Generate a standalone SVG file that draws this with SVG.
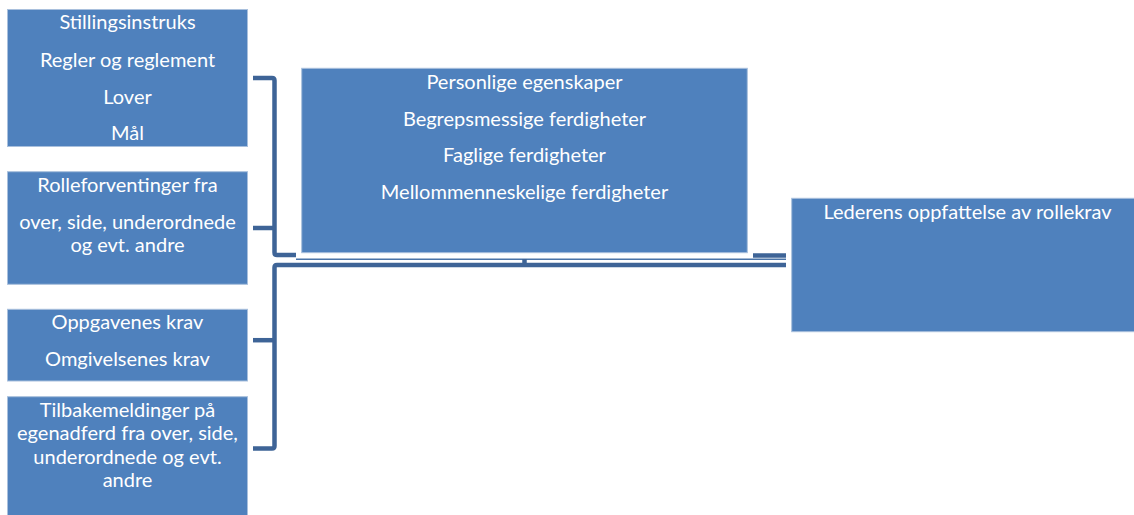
<svg xmlns="http://www.w3.org/2000/svg" width="1134" height="515" viewBox="0 0 1134 515">
<style>
.box{fill:#4F81BD;stroke:#a9c0dd;stroke-width:1}
.t{font-family:Lato,"Liberation Sans",sans-serif;font-size:20px;fill:#ffffff;text-anchor:middle}
.c{fill:none;stroke:#3E6497;stroke-width:4.5;stroke-linejoin:round;stroke-linecap:butt}
.thin{fill:none;stroke:#4A74A8;stroke-width:1.6}
</style>
<rect width="1134" height="515" fill="#ffffff"/>
<g id="connectors">
<path class="c" d="M253,78 H272 Q274.5,78 274.5,80.5 V252.5 Q274.5,255 277,255 H296"/>
<path class="c" d="M253,228 H274.5"/>
<path class="c" d="M753,255.5 H786"/>
<path class="thin" d="M296,259.2 H786"/>
<path class="c" d="M524.5,259 V263"/>
<path class="c" d="M786,265 H277 Q274.5,265 274.5,267.5 V446 Q274.5,448.5 272,448.5 H253"/>
<path class="c" d="M253,340.2 H274.5"/>
</g>
<g id="node-stilling">
<rect class="box" x="7.5" y="9.5" width="240" height="137"/>
<text class="t" x="127.5" y="29.3">Stillingsinstruks</text>
<text class="t" x="127.5" y="66.7">Regler og reglement</text>
<text class="t" x="127.5" y="103.7">Lover</text>
<text class="t" x="127.5" y="140.3">Mål</text>
</g>
<g id="node-rolle">
<rect class="box" x="7.5" y="171.7" width="240" height="112.6"/>
<text class="t" x="127.5" y="192">Rolleforventinger fra</text>
<text class="t" x="127.5" y="228.7">over, side, underordnede</text>
<text class="t" x="127.5" y="252">og evt. andre</text>
</g>
<g id="node-oppgave">
<rect class="box" x="7.5" y="309.3" width="240" height="71.7"/>
<text class="t" x="127.5" y="329.3">Oppgavenes krav</text>
<text class="t" x="127.5" y="366">Omgivelsenes krav</text>
</g>
<g id="node-tilbake">
<rect class="box" x="7.5" y="396.7" width="240" height="125"/>
<text class="t" x="127.5" y="417">Tilbakemeldinger på</text>
<text class="t" x="127.5" y="440.3">egenadferd fra over, side,</text>
<text class="t" x="127.5" y="463.7">underordnede og evt.</text>
<text class="t" x="127.5" y="487">andre</text>
</g>
<g id="node-personlige">
<rect class="box" x="301.7" y="68.3" width="445.6" height="184.4"/>
<text class="t" x="524.5" y="89.3">Personlige egenskaper</text>
<text class="t" x="524.5" y="126">Begrepsmessige ferdigheter</text>
<text class="t" x="524.5" y="162">Faglige ferdigheter</text>
<text class="t" x="524.5" y="199.3">Mellommenneskelige ferdigheter</text>
</g>
<g id="node-lederens">
<rect class="box" x="791.7" y="198.3" width="351" height="133.4"/>
<text class="t" x="967.5" y="219.3">Lederens oppfattelse av rollekrav</text>
</g>
</svg>
